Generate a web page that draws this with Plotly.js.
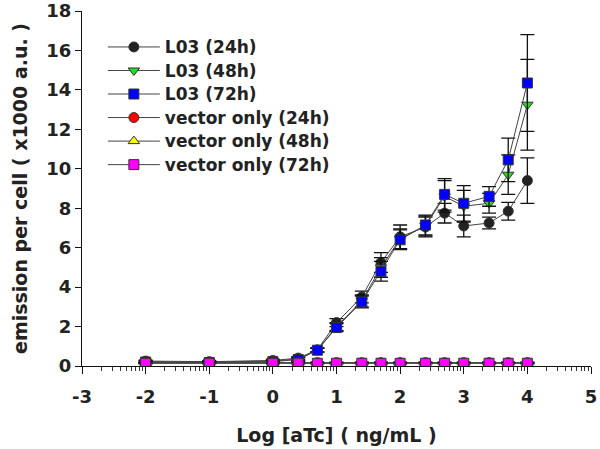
<!DOCTYPE html>
<html>
<head>
<meta charset="utf-8">
<script src="https://cdn.plot.ly/plotly-3.0.1.min.js"></script>
<style>html,body{margin:0;padding:0;background:#fff;}#chart{width:600px;height:449px;}</style>
</head>
<body>
<div id="chart"></div>
<script>
// log10 of aTc concentration (ng/mL)
const logConc = [-2, -1, 0, 0.398, 0.699, 1, 1.398, 1.699, 2, 2.398, 2.699, 3, 3.398, 3.699, 4];

const l03_24h = [0.25, 0.22, 0.28, 0.40, 0.82, 2.2, 3.5, 5.25, 6.55, 7.05, 7.75, 7.1, 7.25, 7.85, 9.4];
const l03_24h_err = [0.05, 0.05, 0.05, 0.08, 0.1, 0.2, 0.3, 0.5, 0.6, 0.5, 0.5, 0.55, 0.3, 0.45, 1.15];
const l03_48h = [0.22, 0.2, 0.25, 0.35, 0.8, 2.0, 3.3, 5.0, 6.45, 7.1, 8.6, 8.1, 8.25, 9.7, 13.25];
const l03_48h_err = [0.05, 0.05, 0.05, 0.08, 0.1, 0.2, 0.3, 0.5, 0.5, 0.5, 0.8, 0.8, 0.5, 1.0, 2.3];
const l03_72h = [0.2, 0.18, 0.22, 0.33, 0.8, 1.95, 3.25, 4.8, 6.4, 7.15, 8.7, 8.25, 8.6, 10.45, 14.35];
const l03_72h_err = [0.05, 0.05, 0.05, 0.08, 0.1, 0.2, 0.3, 0.5, 0.5, 0.5, 0.8, 0.9, 0.5, 1.1, 2.45];

const vec_24h = [0.17, 0.17, 0.17, 0.17, 0.17, 0.17, 0.17, 0.17, 0.17, 0.17, 0.17, 0.17, 0.17, 0.17, 0.17];
const vec_48h = [0.15, 0.15, 0.15, 0.15, 0.15, 0.15, 0.15, 0.15, 0.15, 0.15, 0.15, 0.15, 0.15, 0.15, 0.15];
const vec_72h = [0.14, 0.14, 0.14, 0.14, 0.14, 0.14, 0.14, 0.14, 0.14, 0.14, 0.14, 0.14, 0.14, 0.14, 0.14];
const vec_err = [0.03, 0.03, 0.03, 0.03, 0.03, 0.03, 0.03, 0.03, 0.03, 0.03, 0.03, 0.03, 0.03, 0.03, 0.03];

const seriesNames = ["L03 (24h)", "L03 (48h)", "L03 (72h)", "vector only (24h)", "vector only (48h)", "vector only (72h)"];
const xTicks = [-3, -2, -1, 0, 1, 2, 3, 4, 5];
const yTicks = [0, 2, 4, 6, 8, 10, 12, 14, 16, 18];

// minor log-style ticks within each unit
const minorTicks = [];
for (let d = -3; d < 5; d++) for (let k = 2; k <= 9; k++) minorTicks.push(d + Math.log10(k));

function tr(name, y, err, symbol, color) {
  return {
    x: logConc, y: y, type: 'scatter', mode: 'lines+markers',
    name: '<span style="font-size:17px">' + name + '</span>',
    line: {color: '#444', width: 1},
    marker: {symbol: symbol, size: 10, color: color, line: {color: '#333', width: 1}},
    error_y: {type: 'data', array: err, visible: true, color: '#111', thickness: 1.3, width: 7}
  };
}

const data = [
  tr(seriesNames[0], l03_24h, l03_24h_err, 'circle', '#222222'),
  tr(seriesNames[1], l03_48h, l03_48h_err, 'triangle-down', '#22dd22'),
  tr(seriesNames[2], l03_72h, l03_72h_err, 'square', '#0000ff'),
  tr(seriesNames[3], vec_24h, vec_err, 'circle', '#ff0000'),
  tr(seriesNames[4], vec_48h, vec_err, 'triangle-up', '#ffff00'),
  tr(seriesNames[5], vec_72h, vec_err, 'square', '#ff00ff')
];

const fontFam = 'DejaVu Sans, sans-serif';
const layout = {
  width: 600, height: 449,
  margin: {l: 82, r: 9, t: 11, b: 83},
  paper_bgcolor: '#fff', plot_bgcolor: '#fff',
  showlegend: true,
  legend: {
    x: 0.041, y: 0.946, xanchor: 'left', yanchor: 'top',
    bgcolor: 'rgba(0,0,0,0)',
    font: {family: fontFam, size: 15.8, color: '#222', weight: 'bold'},
    tracegroupgap: 0, itemwidth: 52
  },
  xaxis: {
    range: [-3, 5], tickmode: 'array', tickvals: xTicks, ticktext: xTicks.map(String),
    showgrid: false, zeroline: false, showline: true, linecolor: '#111', linewidth: 1,
    ticks: 'outside', ticklen: 7, tickcolor: '#111', tickwidth: 1, ticklabelstandoff: 7,
    tickfont: {family: fontFam, size: 18, color: '#222', weight: 'bold'},
    minor: {tickmode: 'array', tickvals: minorTicks, ticks: 'outside', ticklen: 4, tickcolor: '#333', tickwidth: 1, showgrid: false},
    title: {text: 'Log [aTc] ( ng/mL )', font: {family: fontFam, size: 19, color: '#222', weight: 'bold'}, standoff: 23},
    automargin: false
  },
  yaxis: {
    range: [0, 18], tickmode: 'array', tickvals: yTicks, ticktext: yTicks.map(String),
    showgrid: false, zeroline: false, showline: true, linecolor: '#111', linewidth: 1,
    ticks: 'outside', ticklen: 6, tickcolor: '#111', tickwidth: 1,
    tickfont: {family: fontFam, size: 18, color: '#222', weight: 'bold'},
    title: {text: 'emission per cell ( x1000 a.u. )', font: {family: fontFam, size: 19, color: '#222', weight: 'bold'}, standoff: 13},
    automargin: false
  }
};

Plotly.newPlot('chart', data, layout, {displayModeBar: false, staticPlot: true});
</script>
</body>
</html>
